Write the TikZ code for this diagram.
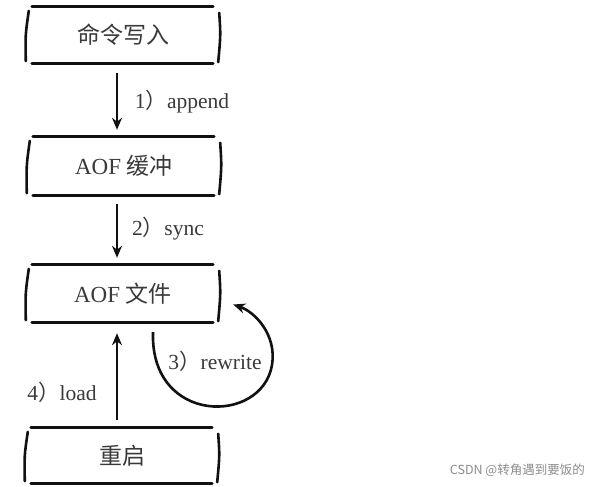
\documentclass[tikz,border=0pt]{standalone}
\usepackage{fontspec}
\setmainfont{Liberation Serif}
\newfontfamily\cjk{Noto Sans CJK SC}
\newfontfamily\wmfont{Noto Sans CJK SC}
\usetikzlibrary{arrows.meta,calc}
\definecolor{ink}{HTML}{111111}
\definecolor{txt}{HTML}{3A3A3A}
\tikzset{
  sketchbox/.style={minimum width=192pt,minimum height=56pt,inner sep=0pt,text=txt,font=\fontsize{23}{26}\selectfont},
  edge/.style={line width=3pt,draw=ink,line cap=round},
  side/.style={line width=2.6pt,draw=ink,line cap=round},
  arr/.style={line width=2.6pt,draw=ink,-{Stealth[length=12pt,width=10pt]}},
  lbl/.style={text=txt,font=\fontsize{21.5}{24}\selectfont,inner sep=0pt},
}
\newcommand\sketchframe[1]{%
  \draw[edge] ($(#1.north west)+(5,0)$) .. controls ($(#1.north)+(0,-0.8)$) .. ($(#1.north east)+(-6,0)$);
  \draw[edge] ($(#1.south west)+(5,0)$) .. controls ($(#1.south)+(0,0.8)$) .. ($(#1.south east)+(-6,0)$);
  \draw[side] ($(#1.north west)+(2,4)$) .. controls ($(#1.west)+(-1.5,0)$) .. ($(#1.south west)+(-1,-2)$);
  \draw[side] ($(#1.north east)+(0,6)$) .. controls ($(#1.east)+(1.5,0)$) .. ($(#1.south east)+(-1,-1)$);
}
\begin{document}
\begin{tikzpicture}[x=1pt,y=-1pt]
\useasboundingbox[fill=white] (0,0) rectangle (592,487);
\node[sketchbox] (b1) at (123,35) {{\cjk 命令写入}};
\node[sketchbox,minimum height=58pt] (b2) at (124,166) {AOF {\cjk 缓冲}};
\node[sketchbox,minimum height=57pt] (b3) at (123,293.5) {AOF {\cjk 文件}};
\node[sketchbox,minimum height=55pt] (b4) at (122,455.5) {{\cjk 重启}};
\sketchframe{b1}
\sketchframe{b2}
\sketchframe{b3}
\sketchframe{b4}
% connectors
\draw[arr] ($(b1.south)+(-6,10)$) -- ($(b2.north)+(-7,-7)$);
\draw[arr] ($(b2.south)+(-7,9)$) -- ($(b3.north)+(-6,-7)$);
\draw[arr] ($(b4.north)+(-5,-8)$) -- ($(b3.south)+(-6,11)$);
\coordinate (rwA) at ($(b3.south)+(30,10)$);
\coordinate (rwB) at ($(b3.east)+(14,11)$);
\draw[arr] (rwA) .. controls (150,425) and (262,425) .. (272,365)
  .. controls (277,335) and (255,312) .. (rwB);
% labels
\node[lbl] (l1) at (182,102) {1{\cjk ）}append};
\node[lbl] (l2) at (168,229) {2{\cjk ）}sync};
\node[lbl] (l3) at (215,361) {3{\cjk ）}rewrite};
\node[lbl] (l4) at (62,392) {4{\cjk ）}load};
\node[text=black!45,font=\wmfont\fontsize{12.5}{14}\selectfont,inner sep=0pt,anchor=east] (wm) at (585,470) {CSDN @转角遇到要饭的};
\end{tikzpicture}
\end{document}
